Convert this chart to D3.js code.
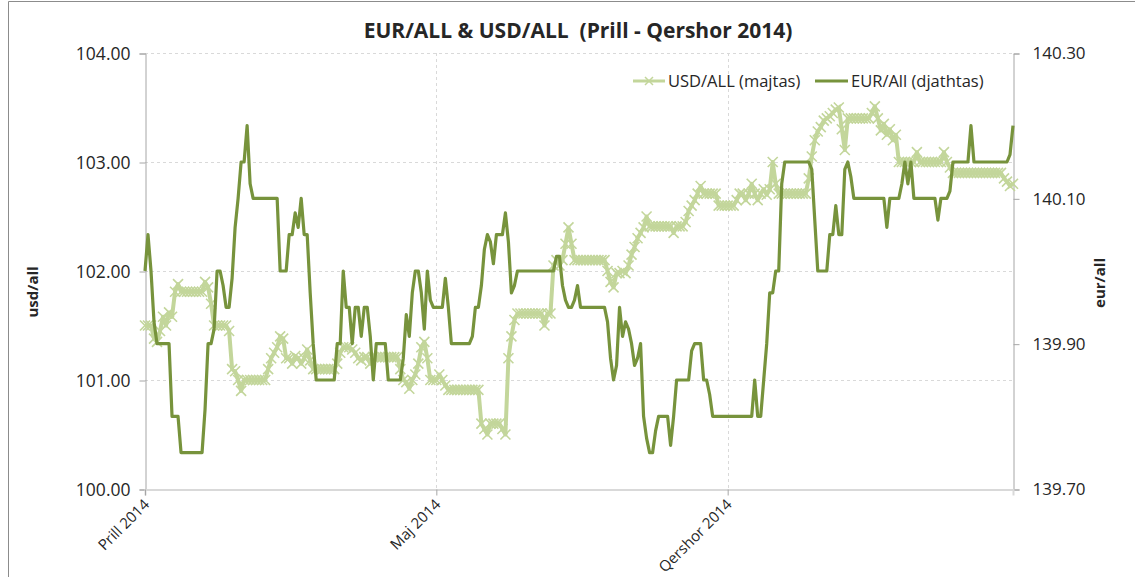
<!DOCTYPE html>
<html>
<head>
<meta charset="utf-8">
<script src="https://cdn.jsdelivr.net/npm/d3@7"></script>
<style>
  body { margin: 0; background: #fff; }
  text { font-family: "Open Sans", Lato, sans-serif; fill: #262626; }
</style>
</head>
<body>
<div class="canva"></div>
<script>
// month labels and the observation index where each month starts
const monthLabels = ["Prill 2014", "Maj 2014", "Qershor 2014"];
const monthStarts = [0, 97, 194];

const usdTicks = [100, 101, 102, 103, 104];
const eurTicks = [139.70, 139.90, 140.10, 140.30];

// USD/ALL (left axis), one value per observation
const usdValues = [
    101.50, 101.50, 101.50, 101.38, 101.35, 101.45, 101.58, 101.50, 101.62, 101.58,
    101.81, 101.88, 101.81, 101.81, 101.81, 101.81, 101.81, 101.81, 101.81, 101.81,
    101.90, 101.85, 101.70, 101.50, 101.50, 101.50, 101.50, 101.50, 101.45, 101.10,
    101.08, 101.00, 100.90, 101.00, 101.00, 101.00, 101.00, 101.00, 101.00, 101.00,
    101.00, 101.10, 101.20, 101.25, 101.30, 101.40, 101.38, 101.20, 101.20, 101.15,
    101.22, 101.20, 101.15, 101.20, 101.28, 101.18, 101.10, 101.10, 101.10, 101.10,
    101.10, 101.10, 101.10, 101.10, 101.15, 101.25, 101.30, 101.30, 101.30, 101.28,
    101.25, 101.20, 101.18, 101.21, 101.21, 101.15, 101.21, 101.21, 101.21, 101.21,
    101.21, 101.21, 101.21, 101.21, 101.21, 101.10, 101.00, 100.98, 100.92, 101.00,
    101.05, 101.15, 101.30, 101.35, 101.20, 101.00, 101.00, 101.00, 101.05, 101.00,
    100.95, 100.91, 100.91, 100.91, 100.91, 100.91, 100.91, 100.91, 100.91, 100.91,
    100.91, 100.91, 100.60, 100.55, 100.50, 100.60, 100.60, 100.60, 100.60, 100.55,
    100.50, 101.20, 101.40, 101.55, 101.61, 101.61, 101.61, 101.61, 101.61, 101.61,
    101.61, 101.61, 101.61, 101.50, 101.61, 101.61, 102.05, 102.10, 102.05, 102.10,
    102.25, 102.40, 102.25, 102.10, 102.10, 102.10, 102.10, 102.10, 102.10, 102.10,
    102.10, 102.10, 102.10, 102.10, 102.00, 101.90, 101.85, 101.98, 101.98, 102.00,
    101.98, 102.05, 102.15, 102.22, 102.30, 102.35, 102.40, 102.50, 102.41, 102.41,
    102.41, 102.41, 102.41, 102.41, 102.41, 102.41, 102.35, 102.41, 102.41, 102.41,
    102.45, 102.55, 102.60, 102.65, 102.71, 102.78, 102.71, 102.71, 102.71, 102.71,
    102.71, 102.60, 102.60, 102.60, 102.60, 102.60, 102.60, 102.65, 102.71, 102.71,
    102.65, 102.71, 102.80, 102.71, 102.65, 102.71, 102.75, 102.70, 102.75, 103.00,
    102.80, 102.71, 102.71, 102.71, 102.71, 102.71, 102.71, 102.71, 102.71, 102.71,
    102.71, 102.85, 103.05, 103.20, 103.28, 103.32, 103.38, 103.40, 103.42, 103.45,
    103.48, 103.50, 103.30, 103.11, 103.40, 103.40, 103.40, 103.40, 103.40, 103.40,
    103.40, 103.40, 103.45, 103.51, 103.40, 103.29, 103.35, 103.25, 103.30, 103.20,
    103.25, 103.00, 103.00, 103.00, 103.00, 103.00, 103.00, 103.09, 103.00, 103.00,
    103.00, 103.00, 103.00, 103.00, 103.00, 103.00, 103.09, 103.00, 102.95, 102.90,
    102.90, 102.90, 102.90, 102.90, 102.90, 102.90, 102.90, 102.90, 102.90, 102.90,
    102.90, 102.90, 102.90, 102.90, 102.90, 102.90, 102.85, 102.82, 102.78, 102.80
];

// EUR/ALL (right axis), one value per observation
const eurValues = [
    140.00, 140.05, 140.00, 139.93, 139.90, 139.90, 139.90, 139.90, 139.90, 139.80,
    139.80, 139.80, 139.75, 139.75, 139.75, 139.75, 139.75, 139.75, 139.75, 139.75,
    139.81, 139.90, 139.90, 139.92, 140.00, 140.00, 139.98, 139.95, 139.95, 139.99,
    140.06, 140.10, 140.15, 140.15, 140.20, 140.12, 140.10, 140.10, 140.10, 140.10,
    140.10, 140.10, 140.10, 140.10, 140.10, 140.00, 140.00, 140.00, 140.05, 140.05,
    140.08, 140.06, 140.10, 140.05, 140.05, 139.97, 139.90, 139.85, 139.85, 139.85,
    139.85, 139.85, 139.85, 139.85, 139.90, 139.90, 140.00, 139.95, 139.95, 139.90,
    139.95, 139.95, 139.91, 139.95, 139.95, 139.91, 139.85, 139.90, 139.90, 139.90,
    139.90, 139.85, 139.85, 139.85, 139.85, 139.85, 139.88, 139.94, 139.91, 139.97,
    140.00, 140.00, 139.97, 139.92, 140.00, 139.96, 139.95, 139.95, 139.95, 139.95,
    139.99, 139.95, 139.90, 139.90, 139.90, 139.90, 139.90, 139.90, 139.90, 139.91,
    139.95, 139.95, 139.98, 140.03, 140.05, 140.04, 140.01, 140.05, 140.05, 140.05,
    140.08, 140.04, 139.97, 139.98, 140.00, 140.00, 140.00, 140.00, 140.00, 140.00,
    140.00, 140.00, 140.00, 140.00, 140.00, 140.00, 140.00, 140.02, 140.02, 139.98,
    139.96, 139.95, 139.95, 139.96, 139.98, 139.95, 139.95, 139.95, 139.95, 139.95,
    139.95, 139.95, 139.95, 139.95, 139.93, 139.88, 139.85, 139.87, 139.95, 139.91,
    139.93, 139.92, 139.90, 139.87, 139.88, 139.90, 139.80, 139.77, 139.75, 139.75,
    139.78, 139.80, 139.80, 139.80, 139.80, 139.76, 139.80, 139.85, 139.85, 139.85,
    139.85, 139.85, 139.89, 139.90, 139.90, 139.90, 139.85, 139.85, 139.83, 139.80,
    139.80, 139.80, 139.80, 139.80, 139.80, 139.80, 139.80, 139.80, 139.80, 139.80,
    139.80, 139.80, 139.80, 139.85, 139.80, 139.80, 139.85, 139.90, 139.97, 139.97,
    140.00, 140.00, 140.12, 140.15, 140.15, 140.15, 140.15, 140.15, 140.15, 140.15,
    140.15, 140.15, 140.14, 140.07, 140.00, 140.00, 140.00, 140.00, 140.05, 140.05,
    140.09, 140.05, 140.05, 140.14, 140.15, 140.13, 140.10, 140.10, 140.10, 140.10,
    140.10, 140.10, 140.10, 140.10, 140.10, 140.10, 140.10, 140.06, 140.10, 140.10,
    140.10, 140.10, 140.12, 140.15, 140.12, 140.15, 140.10, 140.10, 140.10, 140.10,
    140.10, 140.10, 140.10, 140.10, 140.07, 140.10, 140.10, 140.10, 140.11, 140.15,
    140.15, 140.15, 140.15, 140.15, 140.15, 140.20, 140.15, 140.15, 140.15, 140.15,
    140.15, 140.15, 140.15, 140.15, 140.15, 140.15, 140.15, 140.15, 140.16, 140.20
];

const usdColor = "#c3d69b";
const eurColor = "#77933c";
const gridColor = "#d9d9d9";
const axisColor = "#a6a6a6";
const font = "'Open Sans', Lato, sans-serif";

const svg = d3.select(".canva").append("svg")
    .attr("width", 1135)
    .attr("height", 577);

// chart frame (only left and top edges show in the picture)
svg.append("path")
    .attr("d", "M8.5,577 L8.5,1.5 L1135,1.5")
    .attr("fill", "none")
    .attr("stroke", "#8c8c8c");

const x = d3.scaleLinear().domain([0, usdValues.length - 1]).range([145, 1013]);
const yL = d3.scaleLinear().domain([100, 104]).range([489, 53]);
const yR = d3.scaleLinear().domain([139.70, 140.30]).range([489, 53]);

// gridlines
svg.append("g").selectAll("line.h")
    .data(usdTicks.slice(1))
    .enter().append("line")
    .attr("x1", x(0)).attr("x2", x(usdValues.length - 1))
    .attr("y1", d => yL(d) + 0.5).attr("y2", d => yL(d) + 0.5)
    .attr("stroke", gridColor)
    .attr("stroke-dasharray", "3,3");

svg.append("g").selectAll("line.v")
    .data(monthStarts.slice(1))
    .enter().append("line")
    .attr("x1", d => Math.round(x(d)) + 0.5).attr("x2", d => Math.round(x(d)) + 0.5)
    .attr("y1", yL(104)).attr("y2", yL(100))
    .attr("stroke", gridColor)
    .attr("stroke-dasharray", "3,3");

// axes
const fmt = d3.format(".2f");

const leftAxis = svg.append("g")
    .attr("transform", "translate(145.5,0.5)")
    .call(d3.axisLeft(yL).tickValues(usdTicks).tickFormat(fmt).tickSize(6).tickPadding(9));

const rightAxis = svg.append("g")
    .attr("transform", "translate(1013.5,0.5)")
    .call(d3.axisRight(yR).tickValues(eurTicks).tickFormat(fmt).tickSize(6).tickPadding(13));

const bottomAxis = svg.append("g")
    .attr("transform", "translate(0,489.5)")
    .call(d3.axisBottom(x).tickValues(monthStarts).tickFormat((d, i) => monthLabels[i]).tickSize(6));

[leftAxis, rightAxis, bottomAxis].forEach(a => {
    a.select(".domain").attr("stroke", axisColor);
    a.selectAll(".tick line").attr("stroke", axisColor);
    a.selectAll("text")
        .style("font-family", font)
        .style("font-size", "17.5px")
        .attr("fill", "#262626");
});
rightAxis.selectAll("text").style("font-size", "17px");
bottomAxis.select(".domain").attr("stroke", gridColor).attr("stroke-width", 2);

bottomAxis.selectAll("text")
    .attr("x", -8)
    .attr("y", 4)
    .attr("dy", "0.71em")
    .attr("transform", "rotate(-45)")
    .style("text-anchor", "end")
    .style("font-size", "15px");

// USD line with x markers
const usdLine = d3.line()
    .x((d, i) => x(i))
    .y(d => yL(d));

svg.append("path")
    .datum(usdValues)
    .attr("fill", "none")
    .attr("stroke", usdColor)
    .attr("stroke-width", 4)
    .attr("stroke-linejoin", "round")
    .attr("d", usdLine);

const xMark = "M-5,-5L5,5M-5,5L5,-5";

svg.append("g").selectAll("path")
    .data(usdValues)
    .enter().append("path")
    .attr("transform", (d, i) => `translate(${x(i)},${yL(d)})`)
    .attr("d", xMark)
    .attr("stroke", usdColor)
    .attr("stroke-width", 1.6)
    .attr("fill", "none");

// EUR line
const eurLine = d3.line()
    .x((d, i) => x(i))
    .y(d => yR(d));

svg.append("path")
    .datum(eurValues)
    .attr("fill", "none")
    .attr("stroke", eurColor)
    .attr("stroke-width", 3.2)
    .attr("stroke-linejoin", "round")
    .attr("d", eurLine);

// title and axis titles
svg.append("text")
    .attr("x", 578)
    .attr("y", 38)
    .attr("text-anchor", "middle")
    .attr("xml:space", "preserve")
    .style("font-size", "21px")
    .style("font-weight", "bold")
    .text("EUR/ALL & USD/ALL  (Prill - Qershor 2014)");

svg.append("text")
    .attr("transform", "translate(38,292) rotate(-90)")
    .attr("text-anchor", "middle")
    .style("font-size", "15px")
    .style("font-weight", "bold")
    .text("usd/all");

svg.append("text")
    .attr("transform", "translate(1105,283) rotate(-90)")
    .attr("text-anchor", "middle")
    .style("font-size", "15px")
    .style("font-weight", "bold")
    .text("eur/all");

// legend
const legend = svg.append("g");
legend.append("line")
    .attr("x1", 633).attr("x2", 665).attr("y1", 81).attr("y2", 81)
    .attr("stroke", usdColor).attr("stroke-width", 3);
legend.append("path")
    .attr("transform", "translate(649,81)")
    .attr("d", "M-4,-4L4,4M-4,4L4,-4")
    .attr("stroke", usdColor).attr("stroke-width", 1.5);
legend.append("text")
    .attr("x", 668).attr("y", 87)
    .style("font-size", "16.5px")
    .text("USD/ALL (majtas)");

legend.append("line")
    .attr("x1", 815).attr("x2", 848).attr("y1", 81).attr("y2", 81)
    .attr("stroke", eurColor).attr("stroke-width", 3);
legend.append("text")
    .attr("x", 851).attr("y", 87)
    .style("font-size", "16.5px")
    .text("EUR/All (djathtas)");
</script>
</body>
</html>
